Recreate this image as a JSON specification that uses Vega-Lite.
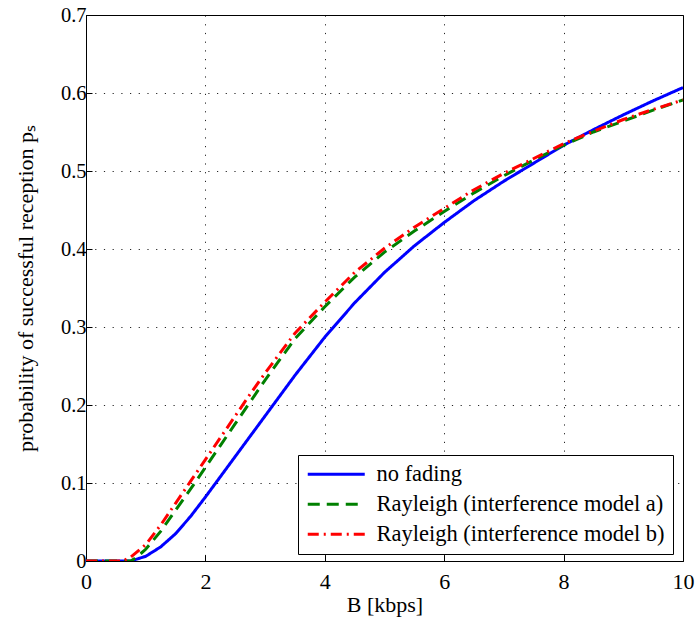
{
  "$schema": "https://vega.github.io/schema/vega-lite/v6.json",
  "width": 597,
  "height": 546,
  "autosize": {"type": "none"},
  "padding": {"left": 86, "top": 15, "right": 12, "bottom": 58},
  "background": "white",
  "config": {"view": {"stroke": "black", "strokeWidth": 1}, "font": "Liberation Serif"},
  "data": {"values": [
    {"B": 0, "p": 0, "model": "no fading"},
    {"B": 0.5, "p": 0, "model": "no fading"},
    {"B": 0.75, "p": 0, "model": "no fading"},
    {"B": 1.0, "p": 0.006, "model": "no fading"},
    {"B": 1.25, "p": 0.018, "model": "no fading"},
    {"B": 1.5, "p": 0.035, "model": "no fading"},
    {"B": 1.75, "p": 0.057, "model": "no fading"},
    {"B": 2.0, "p": 0.082, "model": "no fading"},
    {"B": 2.25, "p": 0.108, "model": "no fading"},
    {"B": 2.5, "p": 0.134, "model": "no fading"},
    {"B": 2.75, "p": 0.160, "model": "no fading"},
    {"B": 3.0, "p": 0.186, "model": "no fading"},
    {"B": 3.5, "p": 0.238, "model": "no fading"},
    {"B": 4.0, "p": 0.287, "model": "no fading"},
    {"B": 4.5, "p": 0.331, "model": "no fading"},
    {"B": 5.0, "p": 0.370, "model": "no fading"},
    {"B": 5.5, "p": 0.404, "model": "no fading"},
    {"B": 6.0, "p": 0.434, "model": "no fading"},
    {"B": 6.5, "p": 0.462, "model": "no fading"},
    {"B": 7.0, "p": 0.487, "model": "no fading"},
    {"B": 7.5, "p": 0.510, "model": "no fading"},
    {"B": 8.0, "p": 0.533, "model": "no fading"},
    {"B": 8.5, "p": 0.553, "model": "no fading"},
    {"B": 9.0, "p": 0.572, "model": "no fading"},
    {"B": 9.5, "p": 0.590, "model": "no fading"},
    {"B": 10, "p": 0.607, "model": "no fading"},
    {"B": 0, "p": 0, "model": "Rayleigh (interference model a)"},
    {"B": 0.5, "p": 0, "model": "Rayleigh (interference model a)"},
    {"B": 0.75, "p": 0, "model": "Rayleigh (interference model a)"},
    {"B": 0.85, "p": 0.005, "model": "Rayleigh (interference model a)"},
    {"B": 1.0, "p": 0.015, "model": "Rayleigh (interference model a)"},
    {"B": 1.25, "p": 0.038, "model": "Rayleigh (interference model a)"},
    {"B": 1.5, "p": 0.065, "model": "Rayleigh (interference model a)"},
    {"B": 1.75, "p": 0.092, "model": "Rayleigh (interference model a)"},
    {"B": 2.0, "p": 0.120, "model": "Rayleigh (interference model a)"},
    {"B": 2.25, "p": 0.148, "model": "Rayleigh (interference model a)"},
    {"B": 2.5, "p": 0.176, "model": "Rayleigh (interference model a)"},
    {"B": 2.75, "p": 0.204, "model": "Rayleigh (interference model a)"},
    {"B": 3.0, "p": 0.232, "model": "Rayleigh (interference model a)"},
    {"B": 3.5, "p": 0.285, "model": "Rayleigh (interference model a)"},
    {"B": 4.0, "p": 0.326, "model": "Rayleigh (interference model a)"},
    {"B": 4.5, "p": 0.364, "model": "Rayleigh (interference model a)"},
    {"B": 5.0, "p": 0.396, "model": "Rayleigh (interference model a)"},
    {"B": 5.5, "p": 0.423, "model": "Rayleigh (interference model a)"},
    {"B": 6.0, "p": 0.448, "model": "Rayleigh (interference model a)"},
    {"B": 6.5, "p": 0.472, "model": "Rayleigh (interference model a)"},
    {"B": 7.0, "p": 0.494, "model": "Rayleigh (interference model a)"},
    {"B": 7.5, "p": 0.514, "model": "Rayleigh (interference model a)"},
    {"B": 8.0, "p": 0.533, "model": "Rayleigh (interference model a)"},
    {"B": 8.5, "p": 0.550, "model": "Rayleigh (interference model a)"},
    {"B": 9.0, "p": 0.564, "model": "Rayleigh (interference model a)"},
    {"B": 9.5, "p": 0.578, "model": "Rayleigh (interference model a)"},
    {"B": 10, "p": 0.591, "model": "Rayleigh (interference model a)"},
    {"B": 0, "p": 0, "model": "Rayleigh (interference model b)"},
    {"B": 0.5, "p": 0, "model": "Rayleigh (interference model b)"},
    {"B": 0.62, "p": 0, "model": "Rayleigh (interference model b)"},
    {"B": 0.75, "p": 0.005, "model": "Rayleigh (interference model b)"},
    {"B": 1.0, "p": 0.021, "model": "Rayleigh (interference model b)"},
    {"B": 1.25, "p": 0.046, "model": "Rayleigh (interference model b)"},
    {"B": 1.5, "p": 0.074, "model": "Rayleigh (interference model b)"},
    {"B": 1.75, "p": 0.102, "model": "Rayleigh (interference model b)"},
    {"B": 2.0, "p": 0.130, "model": "Rayleigh (interference model b)"},
    {"B": 2.25, "p": 0.158, "model": "Rayleigh (interference model b)"},
    {"B": 2.5, "p": 0.186, "model": "Rayleigh (interference model b)"},
    {"B": 2.75, "p": 0.214, "model": "Rayleigh (interference model b)"},
    {"B": 3.0, "p": 0.241, "model": "Rayleigh (interference model b)"},
    {"B": 3.5, "p": 0.292, "model": "Rayleigh (interference model b)"},
    {"B": 4.0, "p": 0.332, "model": "Rayleigh (interference model b)"},
    {"B": 4.5, "p": 0.370, "model": "Rayleigh (interference model b)"},
    {"B": 5.0, "p": 0.401, "model": "Rayleigh (interference model b)"},
    {"B": 5.5, "p": 0.428, "model": "Rayleigh (interference model b)"},
    {"B": 6.0, "p": 0.452, "model": "Rayleigh (interference model b)"},
    {"B": 6.5, "p": 0.476, "model": "Rayleigh (interference model b)"},
    {"B": 7.0, "p": 0.497, "model": "Rayleigh (interference model b)"},
    {"B": 7.5, "p": 0.516, "model": "Rayleigh (interference model b)"},
    {"B": 8.0, "p": 0.535, "model": "Rayleigh (interference model b)"},
    {"B": 8.5, "p": 0.551, "model": "Rayleigh (interference model b)"},
    {"B": 9.0, "p": 0.566, "model": "Rayleigh (interference model b)"},
    {"B": 9.5, "p": 0.579, "model": "Rayleigh (interference model b)"},
    {"B": 10, "p": 0.591, "model": "Rayleigh (interference model b)"}
  ]},
  "mark": {"type": "line", "strokeWidth": 3, "clip": true},
  "encoding": {
    "x": {
      "field": "B", "type": "quantitative",
      "scale": {"domain": [0, 10], "nice": false, "zero": false},
      "axis": {
        "values": [0, 2, 4, 6, 8, 10], "format": "d", "labelFlush": false,
        "labelFont": "Liberation Serif", "labelFontSize": 22, "labelColor": "black", "labelPadding": 16,
        "ticks": true, "tickSize": -6, "tickColor": "black",
        "domainColor": "black",
        "grid": true, "gridColor": "black", "gridDash": [1.2, 7.5], "gridOpacity": 0.85,
        "title": "B [kbps]", "titleFont": "Liberation Serif", "titleFontSize": 22, "titleFontWeight": "normal", "titleColor": "black",
        "titleY": 50, "titleBaseline": "alphabetic"
      }
    },
    "y": {
      "field": "p", "type": "quantitative",
      "scale": {"domain": [0, 0.7], "nice": false},
      "axis": {
        "values": [0, 0.1, 0.2, 0.3, 0.4, 0.5, 0.6, 0.7], "format": "~g", "labelFlush": false,
        "labelFont": "Liberation Serif", "labelFontSize": 20.5, "labelColor": "black", "labelPadding": 6,
        "ticks": true, "tickSize": -6, "tickColor": "black",
        "domainColor": "black",
        "grid": true, "gridColor": "black", "gridDash": [1.2, 7.5], "gridOpacity": 0.85,
        "title": "probability of successful reception pₛ", "titleFont": "Liberation Serif", "titleFontSize": 22, "titleFontWeight": "normal", "titleColor": "black",
        "titleX": -61, "titleY": 273, "titleAlign": "center", "titleBaseline": "middle", "titleAngle": -90
      }
    },
    "color": {
      "field": "model", "type": "nominal",
      "scale": {"domain": ["no fading", "Rayleigh (interference model a)", "Rayleigh (interference model b)"], "range": ["#0000ff", "#008000", "#ff0000"]},
      "legend": {
        "title": null, "orient": "none", "legendX": 212, "legendY": 440,
        "strokeColor": "black", "fillColor": "white", "padding": 8,
        "labelFont": "Liberation Serif", "labelFontSize": 22.5, "labelColor": "black", "labelLimit": 500,
        "symbolType": "M-1,0H5", "symbolSize": 361, "symbolStrokeWidth": 3,
        "labelOffset": 48, "rowPadding": 7
      }
    },
    "strokeDash": {
      "field": "model", "type": "nominal",
      "scale": {"domain": ["no fading", "Rayleigh (interference model a)", "Rayleigh (interference model b)"], "range": [[1, 0], [12, 7], [11, 5, 2, 5]]},
      "legend": {
        "title": null, "orient": "none", "legendX": 212, "legendY": 440,
        "strokeColor": "black", "fillColor": "white", "padding": 8,
        "labelFont": "Liberation Serif", "labelFontSize": 22.5, "labelColor": "black", "labelLimit": 500,
        "symbolType": "M-1,0H5", "symbolSize": 361, "symbolStrokeWidth": 3,
        "labelOffset": 48, "rowPadding": 7
      }
    }
  }
}
